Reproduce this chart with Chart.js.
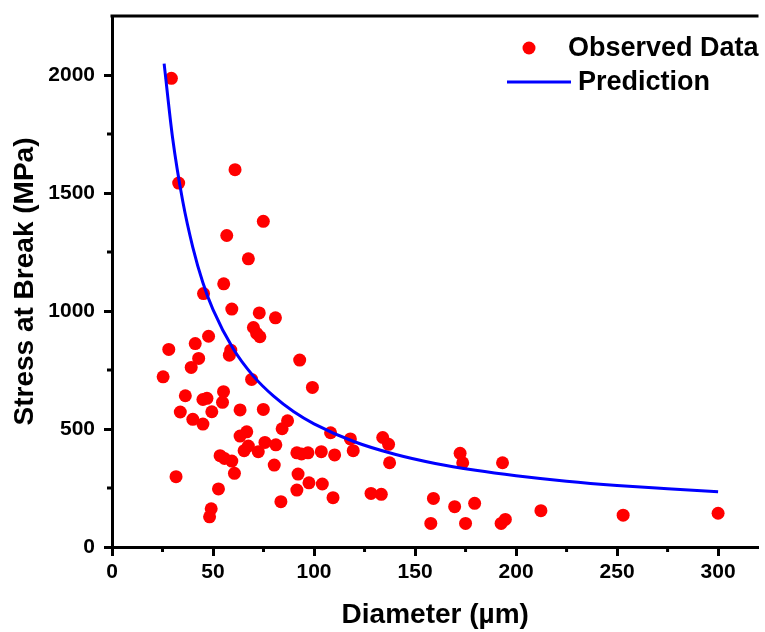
<!DOCTYPE html>
<html>
<head>
<meta charset="utf-8">
<script src="https://cdn.jsdelivr.net/npm/chart.js@4.4.1/dist/chart.umd.min.js"></script>
<style>
  html, body { margin: 0; padding: 0; background: #fff; }
  #wrap { width: 765px; height: 632px; }
</style>
</head>
<body>
<div id="wrap"><canvas id="chart"></canvas></div>
<script>
// observed points (diameter in um, stress in MPa)
const obsDiameter = [29.4, 33, 60.9, 74.9, 56.8, 67.5, 55.3, 45.3, 59.3, 72.9, 80.9, 70, 71.6, 73.2, 47.8, 41.2, 28.1, 58.8, 58.1, 42.9,
    92.9, 39.2, 25.3, 69.1, 99.2, 55.2, 36.3, 47, 45, 54.7, 33.8, 49.4, 63.4, 74.9, 40, 45, 86.9, 84.2, 66.7, 63.4,
    108.2, 118, 134, 136.9, 119.4, 137.4, 75.7, 81.1, 67.5, 65.4, 72.4, 91.5, 93.8, 97, 103.6, 110.2, 53.5, 55.7, 59.3, 80.3,
    60.6, 92.1, 31.7, 97.5, 104.1, 52.7, 91.5, 128.2, 133.3, 109.4, 159.1, 83.6, 49.1, 48.3, 157.8, 172.3, 173.6, 193.3, 169.6, 179.5,
    175, 192.6, 194.7, 212.3, 253, 300];
const obsStress = [1986, 1542, 1599, 1380, 1320, 1221, 1115, 1074, 1008, 992, 971, 930, 905, 891, 893, 862, 837, 834, 813, 799,
    792, 761, 721, 710, 676, 658, 641, 630, 625, 613, 572, 573, 581, 583, 541, 521, 535, 501, 488, 470,
    484, 458, 464, 435, 408, 357, 443, 433, 428, 408, 404, 399, 394, 399, 404, 390, 387, 375, 364, 347,
    312, 309, 298, 272, 267, 246, 241, 227, 223, 209, 206, 192, 162, 128, 100, 397, 357, 357, 171, 185,
    100, 100, 117, 154, 135, 143];

// prediction curve
const predDiameter = [25.8, 30, 35, 40, 45, 50, 60, 70, 80, 90, 100, 120, 140, 160, 180, 200, 225, 250, 275, 300];
const predStress = [2048, 1733, 1466, 1270, 1120, 1006, 840, 724, 639, 573, 522, 446, 393, 354, 325, 302, 279, 261, 247, 234];

// axis ticks
const xMajorTicks = [0, 50, 100, 150, 200, 250, 300];
const xMinorTicks = [25, 75, 125, 175, 225, 275];
const yMajorTicks = [0, 500, 1000, 1500, 2000];
const yMinorTicks = [250, 750, 1250, 1750];

const FONT = "'Liberation Sans', Arial, sans-serif";
Chart.defaults.font.family = FONT;
Chart.defaults.font.weight = "bold";
Chart.defaults.color = "#000";

const toPoints = (xs, ys) => xs.map((x, i) => ({ x: x, y: ys[i] }));

// minor ticks, top frame line and the legend
const extrasPlugin = {
    id: "extras",
    afterDraw(chart) {
        const ctx = chart.ctx;
        const area = chart.chartArea;
        const xs = chart.scales.x;
        const ys = chart.scales.y;
        ctx.save();
        ctx.strokeStyle = "#000";
        ctx.lineWidth = 3;
        ctx.beginPath();
        ctx.moveTo(area.left - 1.5, area.top);
        ctx.lineTo(area.right, area.top);
        ctx.stroke();

        xMinorTicks.forEach((v) => {
            const px = xs.getPixelForValue(v);
            ctx.beginPath();
            ctx.moveTo(px, area.bottom);
            ctx.lineTo(px, area.bottom + 5);
            ctx.stroke();
        });
        yMinorTicks.forEach((v) => {
            const py = ys.getPixelForValue(v);
            ctx.beginPath();
            ctx.moveTo(area.left, py);
            ctx.lineTo(area.left - 5, py);
            ctx.stroke();
        });

        // legend
        ctx.fillStyle = "#ff0000";
        ctx.beginPath();
        ctx.arc(529, 48, 6.5, 0, Math.PI * 2);
        ctx.fill();
        ctx.strokeStyle = "#0000ff";
        ctx.lineWidth = 3;
        ctx.beginPath();
        ctx.moveTo(507, 82);
        ctx.lineTo(571, 82);
        ctx.stroke();
        ctx.fillStyle = "#000";
        ctx.font = "bold 27px " + FONT;
        ctx.textBaseline = "middle";
        ctx.textAlign = "left";
        ctx.fillText("Observed Data", 568, 49);
        ctx.fillText("Prediction", 578, 83);
        ctx.restore();
    },
};

const ctx = document.getElementById("chart").getContext("2d");
new Chart(ctx, {
    type: "scatter",
    data: {
        datasets: [
            {
                label: "Prediction",
                type: "line",
                data: toPoints(predDiameter, predStress),
                borderColor: "#0000ff",
                borderWidth: 3,
                pointRadius: 0,
                cubicInterpolationMode: "monotone",
                fill: false,
            },
            {
                label: "Observed Data",
                data: toPoints(obsDiameter, obsStress),
                backgroundColor: "#ff0000",
                borderWidth: 0,
                pointRadius: 6.5,
            },
        ],
    },
    options: {
        responsive: true,
        maintainAspectRatio: false,
        animation: false,
        layout: { padding: { top: 16, right: 0, left: 0, bottom: 0 } },
        plugins: {
            legend: { display: false },
            tooltip: { enabled: false },
        },
        scales: {
            x: {
                type: "linear",
                min: 0,
                max: 320,
                afterFit: (scale) => {
                    scale.height = 85;
                    scale.paddingLeft = 0;
                    scale.paddingRight = 0;
                },
                afterBuildTicks: (scale) => { scale.ticks = xMajorTicks.map((v) => ({ value: v })); },
                ticks: { padding: 4, font: { size: 21, weight: "bold" }, color: "#000", callback: (v) => String(v) },
                grid: { drawOnChartArea: false, drawTicks: true, tickLength: 9, tickWidth: 3, tickColor: "#000" },
                border: { display: true, width: 3, color: "#000" },
                title: { display: true, text: "Diameter (µm)", font: { size: 28, weight: "bold", lineHeight: 1 }, color: "#000", padding: { top: 0, bottom: 3 } },
            },
            y: {
                type: "linear",
                min: 0,
                max: 2250,
                afterFit: (scale) => {
                    scale.width = 112;
                    scale.paddingTop = 0;
                    scale.paddingBottom = 0;
                },
                afterBuildTicks: (scale) => { scale.ticks = yMajorTicks.map((v) => ({ value: v })); },
                ticks: { padding: 9, font: { size: 21, weight: "bold" }, color: "#000", callback: (v) => String(v) },
                grid: { drawOnChartArea: false, drawTicks: true, tickLength: 8, tickWidth: 3, tickColor: "#000" },
                border: { display: true, width: 3, color: "#000" },
                title: { display: true, text: "Stress at Break (MPa)", font: { size: 28, weight: "bold", lineHeight: 1 }, color: "#000", padding: { top: 11, bottom: 0 } },
            },
        },
    },
    plugins: [extrasPlugin],
});
</script>
</body>
</html>
